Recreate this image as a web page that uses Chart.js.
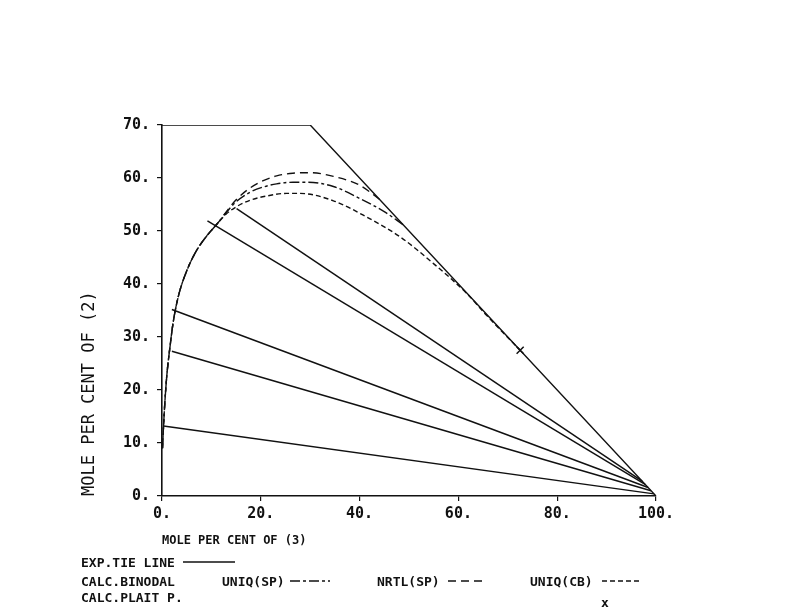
<!DOCTYPE html>
<html>
<head>
<meta charset="utf-8">
<script src="https://cdn.jsdelivr.net/npm/chart.js@4.4.1/dist/chart.umd.min.js"></script>
<style>
  html, body { margin: 0; padding: 0; background: #fff; }
  #wrap { position: relative; width: 804px; height: 607px; overflow: hidden; }
  #grafik { position: absolute; left: 0; top: 0; }
  .leg { position: absolute; font-family: "DejaVu Sans Mono", monospace; font-size: 13px; font-weight: bold; line-height: 13px; color: #111; white-space: pre; }
  .sampel { position: absolute; }
</style>
</head>
<body>
<div id="wrap">
  <canvas id="grafik" width="804" height="607"></canvas>
  <div class="leg" style="left:81px;top:556px">EXP.TIE LINE</div>
  <svg class="sampel" style="left:183px;top:559px" width="52" height="6"><line x1="0" y1="3" x2="52" y2="3" stroke="#111" stroke-width="1.4"/></svg>
  <div class="leg" style="left:81px;top:575px">CALC.BINODAL</div>
  <div class="leg" style="left:222px;top:575px">UNIQ(SP)</div>
  <svg class="sampel" style="left:290px;top:578px" width="40" height="6"><line x1="0" y1="3" x2="40" y2="3" stroke="#111" stroke-width="1.4" stroke-dasharray="10 3 3 3"/></svg>
  <div class="leg" style="left:377px;top:575px">NRTL(SP)</div>
  <svg class="sampel" style="left:448px;top:578px" width="34" height="6"><line x1="0" y1="3" x2="34" y2="3" stroke="#111" stroke-width="1.4" stroke-dasharray="8 5"/></svg>
  <div class="leg" style="left:530px;top:575px">UNIQ(CB)</div>
  <svg class="sampel" style="left:602px;top:578px" width="38" height="6"><line x1="0" y1="3" x2="38" y2="3" stroke="#111" stroke-width="1.4" stroke-dasharray="5 3"/></svg>
  <div class="leg" style="left:81px;top:591px">CALC.PLAIT P.</div>
  <div class="leg" style="left:601px;top:596px">x</div>
</div>
<script>
// sumbu
const tickX = [0, 20, 40, 60, 80, 100];
const tickY = [0, 10, 20, 30, 40, 50, 60, 70];

// batas segitiga (x + y = 100, dipotong di 70)
const batasX = [0, 30, 100];
const batasY = [70, 70, 0];

// garis dasi eksperimen (ujung kiri -> ujung kanan)
const tieKiriX = [0.3, 2.0, 2.0, 9.2, 15.1];
const tieKiriY = [13.2, 27.3, 35.2, 51.9, 54.2];
const tieKananX = [99.6, 99.0, 98.4, 97.8, 97.2];
const tieKananY = [0.4, 1.0, 1.6, 2.2, 2.8];

// cabang kiri binodal (sama untuk ketiga model)
const kiriX = [0.1, 0.3, 0.6, 1.0, 1.6, 2.3, 3.4, 4.8, 6.8, 9.0, 11.3];
const kiriY = [9, 13, 18, 23, 28, 33, 38, 42, 46, 49, 51.5];

// NRTL(SP)
const nrtlX = [13, 15, 17.8, 20.5, 23.2, 26.5, 30, 34.7, 40.1, 44];
const nrtlY = [53.6, 55.9, 58.1, 59.5, 60.4, 60.9, 61, 60.3, 58.6, 56];

// UNIQ(SP)
const uniqSpX = [13, 15, 17.8, 20.5, 23.2, 26.5, 29.3, 34.7, 40.1, 44.9, 48.8];
const uniqSpY = [53.5, 55.5, 57.3, 58.3, 58.9, 59.2, 59.2, 58.4, 56.1, 53.7, 51.2];

// UNIQ(CB)
const uniqCbX = [13, 15.1, 17.8, 21.2, 25.2, 27.9, 34.7, 41.5, 48.2, 54.9, 61.7, 65.7, 72.5];
const uniqCbY = [53.2, 54.6, 55.8, 56.6, 57.1, 57.1, 55.7, 52.6, 48.9, 43.9, 38.2, 34.1, 27.5];

// titik plait
const plaitX = [72.5];
const plaitY = [27.5];

const HITAM = '#111';
const hurufMono = '"DejaVu Sans Mono", monospace';

function gabungTitik(xs, ys) {
    return xs.map(function(x, i) { return { x: x, y: ys[i] }; });
}

function garisBinodal(xs, ys, pola) {
    return {
        data: gabungTitik(kiriX.concat(xs), kiriY.concat(ys)),
        showLine: true,
        borderColor: HITAM,
        borderWidth: 1.4,
        borderDash: pola,
        pointRadius: 0,
        cubicInterpolationMode: 'monotone',
        fill: false
    };
}

const semuaData = [];

semuaData.push({
    data: gabungTitik(batasX, batasY),
    showLine: true,
    borderColor: HITAM,
    borderWidth: 1.4,
    pointRadius: 0,
    tension: 0
});

for (let i = 0; i < tieKiriX.length; i++) {
    semuaData.push({
        data: [{ x: tieKiriX[i], y: tieKiriY[i] }, { x: tieKananX[i], y: tieKananY[i] }],
        showLine: true,
        borderColor: HITAM,
        borderWidth: 1.5,
        pointRadius: 0
    });
}

semuaData.push(garisBinodal(nrtlX, nrtlY, [8, 5]));
semuaData.push(garisBinodal(uniqSpX, uniqSpY, [10, 3, 3, 3]));
semuaData.push(garisBinodal(uniqCbX, uniqCbY, [5, 3]));

semuaData.push({
    data: gabungTitik(plaitX, plaitY),
    showLine: false,
    pointStyle: 'crossRot',
    pointRadius: 5,
    borderColor: HITAM,
    borderWidth: 1.5
});

const grafik = new Chart(document.getElementById('grafik').getContext('2d'), {
    type: 'scatter',
    data: { datasets: semuaData },
    options: {
        responsive: false,
        animation: false,
        events: [],
        layout: { padding: { top: 125, right: 148, bottom: 0, left: 0 } },
        plugins: { legend: { display: false }, tooltip: { enabled: false } },
        scales: {
            x: {
                type: 'linear',
                min: 0,
                max: 100,
                afterBuildTicks: function(s) { s.ticks = tickX.map(function(v) { return { value: v }; }); },
                afterFit: function(s) { s.height = 111; },
                ticks: {
                    autoSkip: false,
                    maxRotation: 0,
                    padding: 4,
                    color: HITAM,
                    font: { family: hurufMono, size: 15, weight: 'bold' },
                    callback: function(v) { return v + '.'; }
                },
                grid: { drawOnChartArea: false, drawTicks: true, tickLength: 5, color: HITAM, lineWidth: 1.2 },
                border: { display: true, color: HITAM, width: 1.6 },
                title: {
                    display: true,
                    text: 'MOLE PER CENT OF (3)',
                    align: 'start',
                    color: HITAM,
                    font: { family: hurufMono, size: 12, weight: 'bold' },
                    padding: { top: 0, bottom: 59 }
                }
            },
            y: {
                type: 'linear',
                min: 0,
                max: 70,
                afterBuildTicks: function(s) { s.ticks = tickY.map(function(v) { return { value: v }; }); },
                afterFit: function(s) { s.width = 162; },
                ticks: {
                    autoSkip: false,
                    padding: 7,
                    color: HITAM,
                    font: { family: hurufMono, size: 15, weight: 'bold' },
                    callback: function(v) { return v + '.'; }
                },
                grid: { drawOnChartArea: false, drawTicks: true, tickLength: 5, color: HITAM, lineWidth: 1.2 },
                border: { display: true, color: HITAM, width: 1.6 },
                title: {
                    display: true,
                    text: 'MOLE PER CENT OF (2)',
                    align: 'start',
                    color: HITAM,
                    font: { family: hurufMono, size: 17 },
                    padding: { top: 79, bottom: 0 }
                }
            }
        }
    }
});
</script>
</body>
</html>
